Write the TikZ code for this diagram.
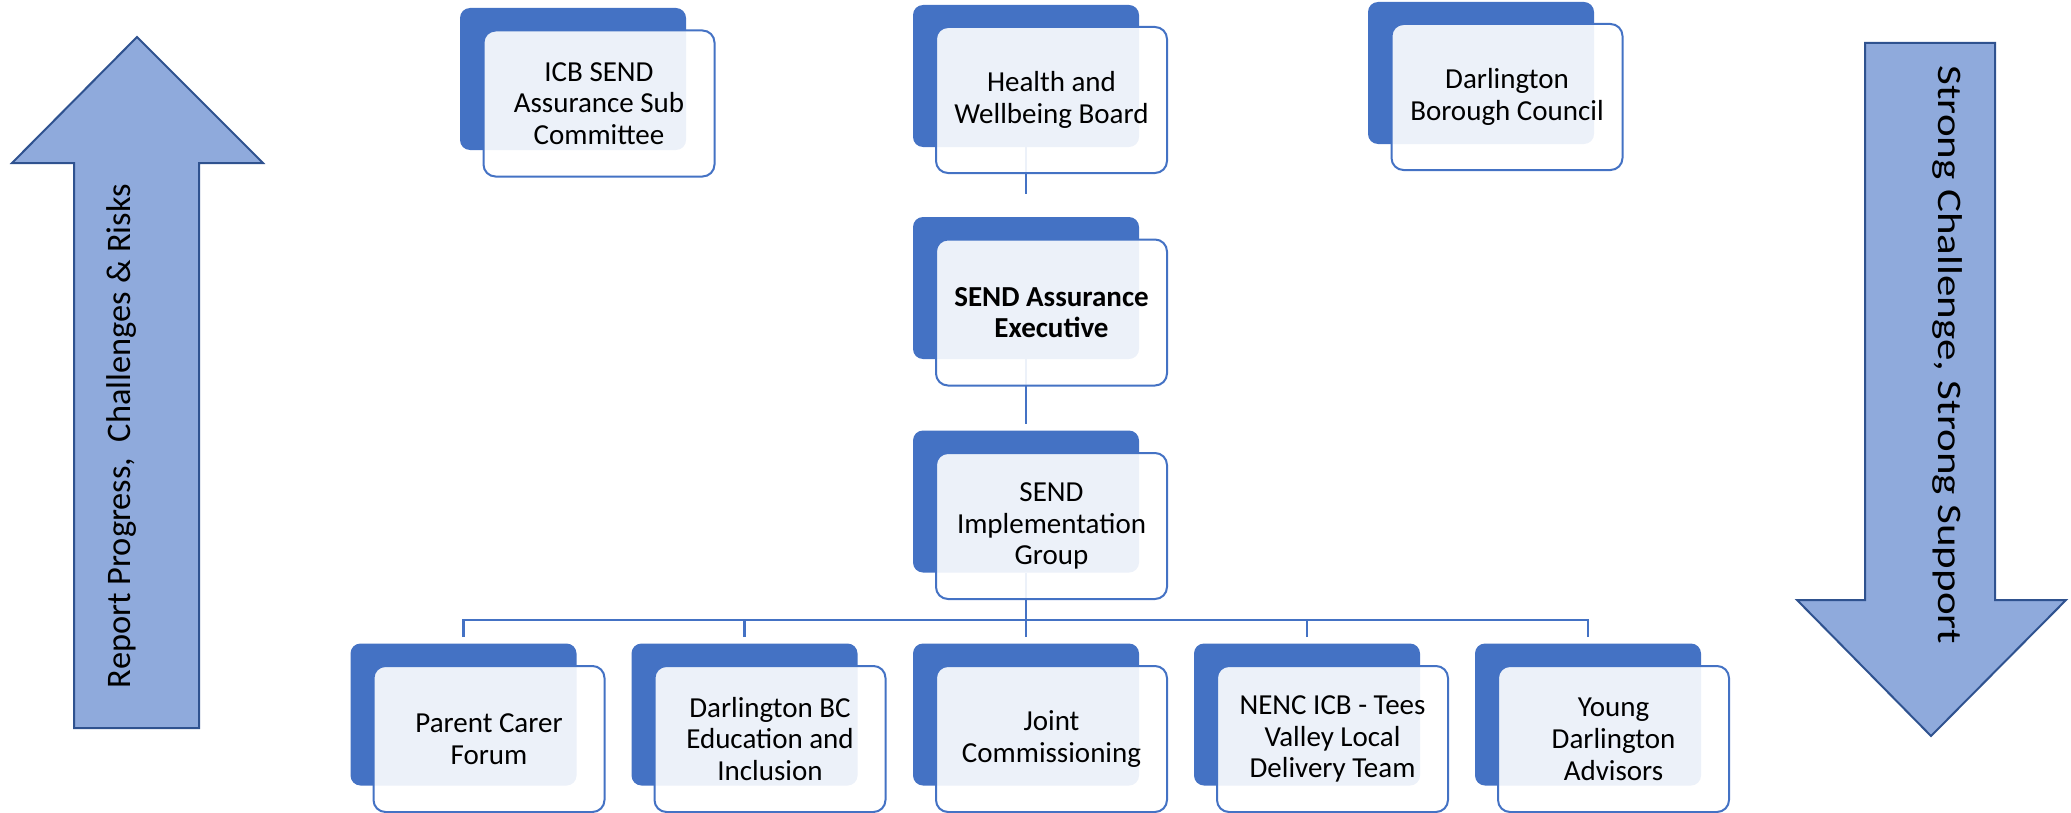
\documentclass[tikz,border=0pt]{standalone}
\usepackage{fontspec}
\setmainfont{Carlito}
\definecolor{sendblue}{RGB}{68,114,196}
\definecolor{arrowfill}{RGB}{143,170,220}
\definecolor{arrowline}{RGB}{47,82,143}

\tikzset{
  backbox/.style={fill=sendblue, rounded corners=5pt, minimum width=113pt, minimum height=71pt, inner sep=0pt},
  frontbox/.style={draw=sendblue, line width=1pt, fill=white, fill opacity=0.9, text opacity=1, rounded corners=6pt,
    minimum width=115.5pt, minimum height=73pt, align=center, font=\fontsize{14.5}{15.9}\selectfont},
  link/.style={draw=sendblue, line width=1.2pt},
  bigarrow/.style={fill=arrowfill, draw=arrowline, line width=1pt, line join=miter},
  arrowtext/.style={font=\fontsize{17.2}{20}\selectfont, inner sep=0pt}
}

\begin{document}
\begin{tikzpicture}[x=0.5pt, y=-0.5pt]
    \useasboundingbox (0,0) rectangle (2071,813);

    % side arrows
    \draw[bigarrow] (74,728) -- (74,163) -- (12,163) -- (137,37) -- (263,163) -- (199,163) -- (199,728) -- cycle;
    \node[arrowtext, rotate=90] (upnote) at (122,436) {Report Progress, \ Challenges \& Risks};

    \draw[bigarrow] (1865,43) -- (1995,43) -- (1995,600) -- (2066,600) -- (1931,736) -- (1797,600) -- (1865,600) -- cycle;
    \node[arrowtext, rotate=-90] (downnote) at (1947,355) {\scalebox{1.25}[1]{Strong Challenge, Strong Support}};

    % back tiles
    \node[backbox] (icbB) at (573,79) {};
    \node[backbox] (hwbB) at (1026,76) {};
    \node[backbox] (dbcB) at (1481,73) {};
    \node[backbox] (saeB) at (1026,288) {};
    \node[backbox] (sigB) at (1026,501.5) {};
    \node[backbox] (pcfB) at (463.5,714.5) {};
    \node[backbox] (eduB) at (744.5,714.5) {};
    \node[backbox] (jcB) at (1026,714.5) {};
    \node[backbox] (ldtB) at (1307,714.5) {};
    \node[backbox] (ydaB) at (1588,714.5) {};

    % links
    \coordinate (bus) at (1026,620);
    \draw[link, shorten >=11.5pt] (hwbB) -- (saeB);
    \draw[link, shorten >=3pt] (saeB) -- (sigB);
    \draw[link] (sigB) -- (bus);
    \foreach \k in {pcfB,eduB,jcB,ldtB,ydaB}
        \draw[link, shorten <=3pt] (\k.north) |- (bus);

    % front tiles
    \node[frontbox] (icb) at (599,103.5) {ICB SEND\\Assurance Sub\\Committee};
    \node[frontbox] (hwb) at (1051.5,100) {Health and\\Wellbeing Board};
    \node[frontbox] (dbc) at (1507,97) {Darlington\\Borough Council};
    \node[frontbox] (sae) at (1051.5,312.5) {\bfseries SEND Assurance\\\bfseries Executive};
    \node[frontbox] (sig) at (1051.5,526) {SEND\\Implementation\\Group};
    \node[frontbox] (pcf) at (489,739) {Parent Carer\\Forum};
    \node[frontbox] (edu) at (770,739) {Darlington BC\\Education and\\Inclusion};
    \node[frontbox] (jc) at (1051.5,739) {Joint\\Commissioning};
    \node[frontbox] (ldt) at (1332.5,739) {NENC ICB - Tees\\Valley Local\\Delivery Team};
    \node[frontbox] (yda) at (1613.5,739) {Young\\Darlington\\Advisors};
\end{tikzpicture}
\end{document}
